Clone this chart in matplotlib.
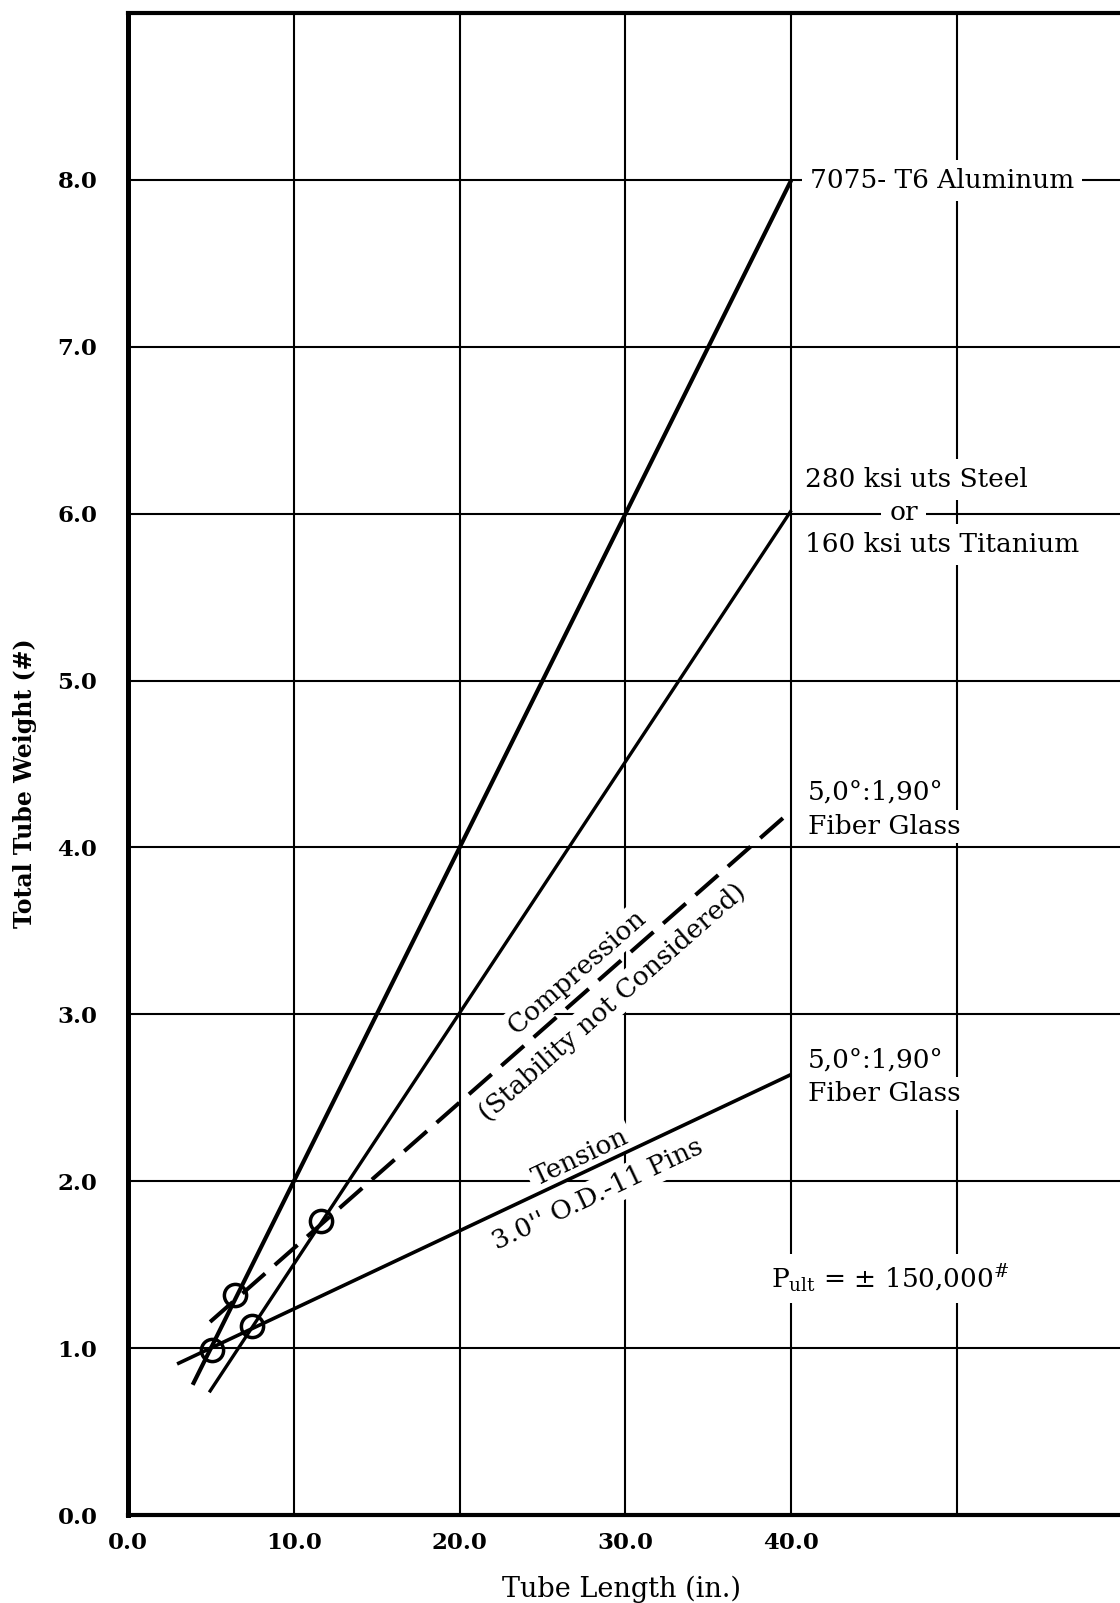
import numpy as np
import matplotlib
matplotlib.use("Agg")
import matplotlib.pyplot as plt

# ---------------- data ----------------
aluminum_x = [3.9, 40.0]
aluminum_y = [0.78, 8.0]
steel_x = [4.9, 40.0]
steel_y = [0.735, 6.02]
compression_x = [4.95, 40.0]
compression_y = [1.157, 4.22]
tension_x = [2.96, 40.0]
tension_y = [0.905, 2.64]
circle_x = [5.07, 6.45, 7.48, 11.64]
circle_y = [0.99, 1.32, 1.13, 1.76]

x_ticks = [0, 10, 20, 30, 40, 50]
x_tick_labels = ["0.0", "10.0", "20.0", "30.0", "40.0", ""]
y_ticks = [0, 1, 2, 3, 4, 5, 6, 7, 8]
y_tick_labels = ["0.0", "1.0", "2.0", "3.0", "4.0", "5.0", "6.0", "7.0", "8.0"]

plt.rcParams["font.family"] = ["DejaVu Serif"]
plt.rcParams["mathtext.fontset"] = "dejavuserif"

W, H = 1120, 1603
fig = plt.figure(figsize=(W / 100, H / 100), dpi=100)
ax = fig.add_axes([128 / W, 88 / H, 995 / W, 1502 / H])
ax.set_xlim(0, 60)
ax.set_ylim(0, 9)

ax.set_xticks(x_ticks)
ax.set_xticklabels(x_tick_labels, fontsize=16.5, fontweight="bold")
ax.set_yticks(y_ticks)
ax.set_yticklabels(y_tick_labels, fontsize=16.5, fontweight="bold")
ax.tick_params(axis="x", length=0, pad=12)
ax.tick_params(axis="y", length=0, pad=22)

ax.set_axisbelow(True)
ax.grid(True, color="black", lw=1.5)

ax.spines["right"].set_visible(False)
ax.spines["left"].set_linewidth(3.6)
ax.spines["bottom"].set_linewidth(3.0)
ax.spines["top"].set_linewidth(3.0)

# ---------------- curves ----------------
ax.plot(aluminum_x, aluminum_y, color="black", lw=3.0, solid_capstyle="butt", zorder=3)
ax.plot(steel_x, steel_y, color="black", lw=2.4, solid_capstyle="butt", zorder=3)
ax.plot(compression_x, compression_y, color="black", lw=2.9, dashes=(7.5, 3.2),
        dash_capstyle="butt", zorder=3)
ax.plot(tension_x, tension_y, color="black", lw=2.6, solid_capstyle="butt", zorder=3)
ax.plot(circle_x, circle_y, ls="none", marker="o", ms=16, mfc="none", mec="black",
        mew=2.5, zorder=4)

box = dict(boxstyle="square,pad=0.3", fc="white", ec="none")
box_tight = dict(boxstyle="square,pad=0.15", fc="white", ec="none")

# ---------------- right side labels ----------------
ax.text(41.1, 7.95, "7075- T6 Aluminum", fontsize=19, ha="left", va="baseline",
        bbox=box, zorder=2.5)

ax.text(40.85, 6.16, "280 ksi uts Steel", fontsize=19, ha="left", va="baseline",
        bbox=box, zorder=2.5)
ax.text(45.9, 5.96, "or", fontsize=19, ha="left", va="baseline",
        bbox=box, zorder=2.5)
ax.text(40.85, 5.77, "160 ksi uts Titanium", fontsize=19, ha="left", va="baseline",
        bbox=box, zorder=2.5)

ax.text(41.0, 4.285, "5,0°:1,90°", fontsize=19, ha="left", va="baseline",
        bbox=box_tight, zorder=2.5)
ax.text(41.0, 4.08, "Fiber Glass", fontsize=19, ha="left", va="baseline",
        bbox=box_tight, zorder=2.5)

ax.text(41.0, 2.68, "5,0°:1,90°", fontsize=19, ha="left", va="baseline",
        bbox=box_tight, zorder=2.5)
ax.text(41.0, 2.48, "Fiber Glass", fontsize=19, ha="left", va="baseline",
        bbox=box_tight, zorder=2.5)

ax.text(38.8, 1.36, r"P$_{\mathrm{ult}}$ = ± 150,000$^{\#}$", fontsize=19,
        ha="left", va="baseline", bbox=box, zorder=2.5)

# ---------------- labels along the curves ----------------
def slope_deg(xs, ys):
    return np.degrees(np.arctan((ys[1] - ys[0]) / (xs[1] - xs[0])))

ang_c = slope_deg(compression_x, compression_y)
ang_t = slope_deg(tension_x, tension_y)

ax.text(27.08, 3.253, "Compression", fontsize=19, rotation=ang_c,
        transform_rotates_text=True, rotation_mode="anchor",
        ha="center", va="center", bbox=box_tight, zorder=2.5)
ax.text(29.19, 3.074, "(Stability not Considered)", fontsize=19, rotation=ang_c,
        transform_rotates_text=True, rotation_mode="anchor",
        ha="center", va="center", bbox=box_tight, zorder=2.5)
ax.text(27.26, 2.145, "Tension", fontsize=19, rotation=ang_t,
        transform_rotates_text=True, rotation_mode="anchor",
        ha="center", va="center", bbox=box_tight, zorder=2.5)
ax.text(28.35, 1.923, "3.0'' O.D.-11 Pins", fontsize=19, rotation=ang_t,
        transform_rotates_text=True, rotation_mode="anchor",
        ha="center", va="center", bbox=box_tight, zorder=2.5)

# ---------------- axis titles ----------------
fig.text(25 / W, 1 - 783 / H, "Total Tube Weight (#)", rotation=90, fontsize=17,
         fontweight="bold", ha="center", va="center")
fig.text(622 / W, 1 - 1597 / H, "Tube Length (in.)", fontsize=19.5,
         ha="center", va="baseline")

fig.savefig("out.png", dpi=100, facecolor="white")
